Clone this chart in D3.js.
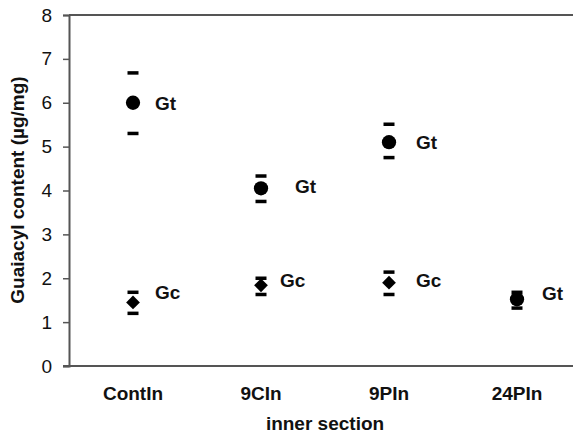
<!DOCTYPE html>
<html>
<head>
<meta charset="utf-8">
<script src="https://cdn.jsdelivr.net/npm/d3@7"></script>
<style>
  html, body { margin: 0; padding: 0; background: #fff; }
  svg { display: block; font-family: "Liberation Sans", Arial, sans-serif; }
</style>
</head>
<body>
<svg id="chart" width="573" height="444"></svg>
<script>
// Sample groups along the x axis
const categories = ["ContIn", "9CIn", "9PIn", "24PIn"];

// Gt (total guaiacyl) means and error limits, µg/mg
const gtMean = [6.0, 4.05, 5.1, 1.52];
const gtLow  = [5.3, 3.75, 4.75, 1.32];
const gtHigh = [6.68, 4.33, 5.51, 1.68];

// Gc means and error limits, µg/mg (no value for 24PIn)
const gcMean = [1.45, 1.84, 1.9, null];
const gcLow  = [1.2, 1.63, 1.63, null];
const gcHigh = [1.68, 2.0, 2.14, null];

const yTicks = [0, 1, 2, 3, 4, 5, 6, 7, 8];

// Label placement relative to each marker (layout only)
const gtLabelDx = [22, 34, 27, 25];
const gtLabelDy = [0, -2, 0, -6];
const gcLabelDx = [22, 19, 27, null];
const gcLabelDy = [-10, -5, -2, null];

const svg = d3.select("#chart");
const margin = { left: 69, top: 15, bottom: 366 };
const plotRight = 581;   // frame continues just past the right edge

const x = d3.scaleBand().domain(categories).range([margin.left, plotRight]);
const y = d3.scaleLinear().domain([0, 8]).range([margin.bottom, margin.top]);
const cx = c => x(c) + x.bandwidth() / 2;

const axisColor = "#555";
const font = "Liberation Sans, Arial, sans-serif";

// Frame: top and right edges
svg.append("path")
  .attr("d", `M${margin.left},${margin.top}H${plotRight}V${margin.bottom}`)
  .attr("fill", "none").attr("stroke", axisColor).attr("stroke-width", 2);

// Y axis
const yAxis = svg.append("g")
  .attr("transform", `translate(${margin.left},0)`)
  .call(d3.axisLeft(y).tickValues(yTicks).tickFormat(d3.format("d")).tickSize(6).tickPadding(11));
yAxis.select(".domain").attr("stroke", axisColor).attr("stroke-width", 2);
yAxis.selectAll(".tick line").attr("stroke", axisColor).attr("stroke-width", 1.5);
yAxis.selectAll(".tick text")
  .attr("font-size", 19).attr("fill", "#111").attr("font-family", font);

// X axis (no tick marks)
const xAxis = svg.append("g")
  .attr("transform", `translate(0,${margin.bottom})`)
  .call(d3.axisBottom(x).tickSize(0).tickPadding(21));
xAxis.select(".domain").attr("stroke", axisColor).attr("stroke-width", 2)
  .attr("d", `M${margin.left - 6},0H${plotRight}`);
xAxis.selectAll(".tick text")
  .attr("font-size", 19).attr("font-weight", "bold").attr("fill", "#111")
  .attr("font-family", font);

// Axis titles
svg.append("text")
  .attr("transform", `translate(24,190) rotate(-90)`)
  .attr("text-anchor", "middle")
  .attr("font-size", 19).attr("font-weight", "bold").attr("fill", "#111")
  .text("Guaiacyl content (µg/mg)");

svg.append("text")
  .attr("x", 325).attr("y", 430)
  .attr("text-anchor", "middle")
  .attr("font-size", 19).attr("font-weight", "bold").attr("fill", "#111")
  .text("inner section");

// Error-limit caps
function caps(lows, highs) {
  const capW = 11, capH = 3.5;
  categories.forEach((c, i) => {
    if (lows[i] == null) return;
    [lows[i], highs[i]].forEach(v => {
      svg.append("rect")
        .attr("x", cx(c) - capW / 2).attr("y", y(v) - capH / 2)
        .attr("width", capW).attr("height", capH)
        .attr("fill", "#000");
    });
  });
}
caps(gtLow, gtHigh);
caps(gcLow, gcHigh);

// Gt markers: circles
const circleSym = d3.symbol().type(d3.symbolCircle).size(160);
categories.forEach((c, i) => {
  svg.append("path").attr("d", circleSym)
    .attr("transform", `translate(${cx(c)},${y(gtMean[i])})`)
    .attr("fill", "#000");
  svg.append("text")
    .attr("x", cx(c) + gtLabelDx[i]).attr("y", y(gtMean[i]) + gtLabelDy[i])
    .attr("dy", "0.36em")
    .attr("font-size", 19).attr("font-weight", "bold").attr("fill", "#111")
    .text("Gt");
});

// Gc markers: diamonds
const diamondSym = d3.symbol().type(d3.symbolDiamond2).size(120);
categories.forEach((c, i) => {
  if (gcMean[i] == null) return;
  svg.append("path").attr("d", diamondSym)
    .attr("transform", `translate(${cx(c)},${y(gcMean[i])})`)
    .attr("fill", "#000");
  svg.append("text")
    .attr("x", cx(c) + gcLabelDx[i]).attr("y", y(gcMean[i]) + gcLabelDy[i])
    .attr("dy", "0.36em")
    .attr("font-size", 19).attr("font-weight", "bold").attr("fill", "#111")
    .text("Gc");
});
</script>
</body>
</html>
